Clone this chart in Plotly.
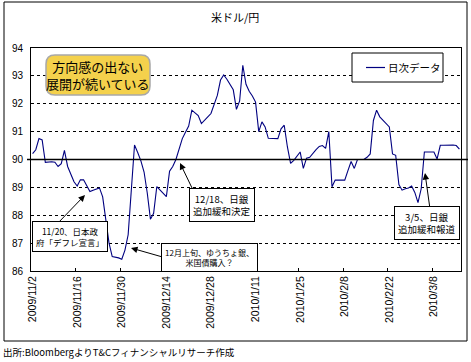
import pandas as pd
import plotly.graph_objects as go

# categories: calendar days 2009/11/2 .. 2010/3/16
dates = pd.date_range("2009-11-02", "2010-03-16", freq="D")
categories = [f"{d.year}/{d.month}/{d.day}" for d in dates]

usd_jpy = [
    90.21, 90.35, 90.75, 90.70, 89.90, 89.92, 89.92, 89.90, 89.75, 89.85,
    90.33, 89.75, 89.45, 89.20, 89.05, 89.27, 89.27, 89.05, 88.85, 88.90,
    88.95, 88.98, 88.66, 87.75, 87.00, 86.52, 86.50, 86.47, 86.42, 86.75,
    87.30, 88.80, 90.52, 90.25, 89.95, 89.55, 88.80, 87.86, 88.07, 89.03,
    88.90, 88.78, 88.67, 89.58, 89.75, 90.00, 90.38, 90.75, 90.98, 91.20,
    91.77, 91.68, 91.58, 91.29, 91.43, 91.53, 91.65, 91.95, 92.30, 92.85,
    93.03, 92.88, 92.70, 92.50, 91.80, 92.10, 93.38, 92.70, 92.45, 92.28,
    92.06, 91.00, 91.35, 91.17, 90.76, 90.75, 90.75, 90.75, 91.10, 91.23,
    90.45, 89.86, 89.97, 90.10, 90.27, 89.68, 90.05, 90.08, 90.23, 90.35,
    90.47, 90.50, 90.40, 91.00, 89.02, 89.26, 89.26, 89.26, 89.26, 89.60,
    89.93, 89.68, 90.00, 90.00, 90.00, 90.08, 90.20, 91.40, 91.77, 91.53,
    91.42, 91.30, 91.17, 90.20, 90.15, 89.10, 88.90, 88.95, 88.98, 89.05,
    88.82, 88.45, 88.95, 90.27, 90.27, 90.27, 90.27, 90.02, 90.51, 90.51,
    90.52, 90.52, 90.52, 90.50, 90.37,
]

y_ticks = [86, 87, 88, 89, 90, 91, 92, 93, 94]
series_name = "日次データ"
title_text = "米ドル/円"
source_text = "出所:BloombergよりT&Cフィナンシャルリサーチ作成"
callout_text = "方向感の出ない<br>展開が続いている"

JP = "Noto Sans CJK JP"
NUM = "Liberation Sans"

fig = go.Figure()
fig.add_trace(go.Scatter(
    x=categories, y=usd_jpy, mode="lines", name=series_name,
    line=dict(color="#000080", width=1.1), showlegend=False,
    hoverinfo="skip",
))

W, H = 471, 362
L, R, T, B = 31, 461, 48, 271


def px(x):
    return (x - L) / (R - L)


def py(y):
    return (B - y) / (B - T)


shapes = []
# outer frame
shapes.append(dict(type="rect", xref="paper", yref="paper",
                   x0=px(4), x1=px(467), y0=py(341), y1=py(2),
                   line=dict(color="black", width=1), layer="below"))
# solid line at 90
shapes.append(dict(type="line", xref="paper", yref="y",
                   x0=px(27), x1=px(468), y0=90, y1=90,
                   line=dict(color="black", width=1.3), layer="above"))
# yellow rounded callout
x0, x1, y0, y1 = px(46), px(150), py(95), py(55)
rx, ry = 9 / (R - L), 9 / (B - T)
path = (f"M {x0+rx},{y1} L {x1-rx},{y1} Q {x1},{y1} {x1},{y1-ry} "
        f"L {x1},{y0+ry} Q {x1},{y0} {x1-rx},{y0} L {x0+rx},{y0} "
        f"Q {x0},{y0} {x0},{y0+ry} L {x0},{y1-ry} Q {x0},{y1} {x0+rx},{y1} Z")
shapes.append(dict(type="path", xref="paper", yref="paper", path=path,
                   fillcolor="#F4D14C", line=dict(color="#A8A8A8", width=1.5),
                   layer="above"))
# manual legend
shapes.append(dict(type="rect", xref="paper", yref="paper",
                   x0=px(352), x1=px(443), y0=py(82), y1=py(53),
                   fillcolor="white", line=dict(color="black", width=1),
                   layer="above"))
shapes.append(dict(type="line", xref="paper", yref="paper",
                   x0=px(366), x1=px(385), y0=py(67.5), y1=py(67.5),
                   line=dict(color="#000080", width=1.2), layer="above"))


def note(text, x, y, size, xanchor="center", **kw):
    return dict(text=text, xref="paper", yref="paper", x=px(x), y=py(y),
                xanchor=xanchor, yanchor="middle", showarrow=False,
                font=dict(family=JP, size=size, color="black"), **kw)


annotations = [
    note(title_text, 235, 17, 11),
    note(series_name, 386, 67.5, 10.5, xanchor="left"),
    note(callout_text, 98, 75, 13),
    note(source_text, 1, 352, 9.5, xanchor="left"),
]

boxes = [
    ("11/20、日本政<br>府「デフレ宣言」", 70, 236, 8.5),
    ("12月上旬、ゆうちょ銀、<br>米国債購入？", 209, 257, 8),
    ("12/18、日銀<br>追加緩和決定", 222, 205.5, 9.5),
    ("3/5、日銀<br>追加緩和報道", 427, 223, 9.5),
]
arrows = [
    ((85, 195), (58, 223)),
    ((131, 248), (166, 258)),
    ((180, 163), (193, 190)),
    ((425, 173), (430, 209)),
]
for (hx, hy), (tx, ty) in arrows:
    annotations.append(dict(text="", xref="paper", yref="paper",
                            x=px(hx), y=py(hy), ax=tx - hx, ay=ty - hy,
                            showarrow=True, arrowhead=2, arrowsize=1.3,
                            arrowwidth=1, arrowcolor="black"))
for text, cx, cy, fs in boxes:
    annotations.append(note(text, cx, cy, fs, bgcolor="white",
                            bordercolor="black", borderwidth=1, borderpad=3))

fig.update_layout(
    width=W, height=H,
    margin=dict(l=L, r=W - R, t=T, b=H - B, autoexpand=False),
    paper_bgcolor="white", plot_bgcolor="white",
    showlegend=False,
    xaxis=dict(type="category", range=[-0.5, len(categories) - 0.5],
               tickmode="linear", tick0=0, dtick=14, tickson="boundaries",
               ticks="inside", ticklen=3, tickcolor="black",
               tickangle=-90, showgrid=False, zeroline=False,
               showline=True, linecolor="black", linewidth=1, mirror=True,
               tickfont=dict(family=NUM, size=10.5, color="black"),
               ticklabelstandoff=0),
    yaxis=dict(range=[86, 94], tickmode="array", tickvals=y_ticks,
               ticktext=[str(v) for v in y_ticks],
               showgrid=True, gridcolor="black", gridwidth=1,
               griddash="3px,3px", zeroline=False,
               showline=True, linecolor="black", linewidth=1, mirror=True,
               ticks="", tickfont=dict(family=NUM, size=10, color="black"),
               ticklabelstandoff=5),
    shapes=shapes, annotations=annotations,
)

fig.write_html(
    "out.html",
    config={"displayModeBar": False, "staticPlot": True},
    post_script="document.body.style.margin='0';document.body.style.overflow='hidden';",
)
